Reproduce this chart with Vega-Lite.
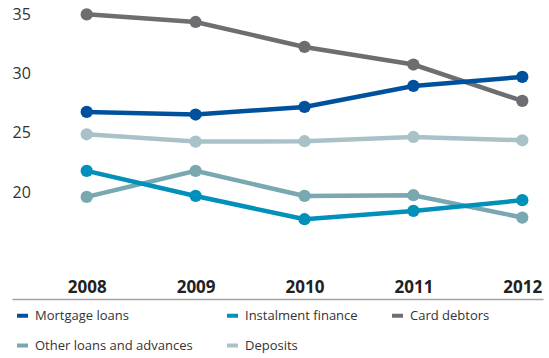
{
  "$schema": "https://vega.github.io/schema/vega-lite/v6.json",
  "width": 531,
  "height": 299,
  "autosize": "none",
  "padding": {"left": 12, "top": 0, "right": 6, "bottom": 59},
  "config": {
    "view": {"stroke": null},
    "font": "Open Sans"
  },
  "data": {
    "values": [
      {"year": 2008, "series": "Card debtors", "value": 35.04},
      {"year": 2009, "series": "Card debtors", "value": 34.39},
      {"year": 2010, "series": "Card debtors", "value": 32.28},
      {"year": 2011, "series": "Card debtors", "value": 30.79},
      {"year": 2012, "series": "Card debtors", "value": 27.71},
      {"year": 2008, "series": "Deposits", "value": 24.89},
      {"year": 2009, "series": "Deposits", "value": 24.27},
      {"year": 2010, "series": "Deposits", "value": 24.3},
      {"year": 2011, "series": "Deposits", "value": 24.66},
      {"year": 2012, "series": "Deposits", "value": 24.38},
      {"year": 2008, "series": "Other loans and advances", "value": 19.59},
      {"year": 2009, "series": "Other loans and advances", "value": 21.79},
      {"year": 2010, "series": "Other loans and advances", "value": 19.67},
      {"year": 2011, "series": "Other loans and advances", "value": 19.73},
      {"year": 2012, "series": "Other loans and advances", "value": 17.84},
      {"year": 2008, "series": "Instalment finance", "value": 21.79},
      {"year": 2009, "series": "Instalment finance", "value": 19.67},
      {"year": 2010, "series": "Instalment finance", "value": 17.7},
      {"year": 2011, "series": "Instalment finance", "value": 18.4},
      {"year": 2012, "series": "Instalment finance", "value": 19.31},
      {"year": 2008, "series": "Mortgage loans", "value": 26.78},
      {"year": 2009, "series": "Mortgage loans", "value": 26.56},
      {"year": 2010, "series": "Mortgage loans", "value": 27.2},
      {"year": 2011, "series": "Mortgage loans", "value": 28.98},
      {"year": 2012, "series": "Mortgage loans", "value": 29.74}
    ]
  },
  "encoding": {
    "x": {
      "field": "year",
      "type": "quantitative",
      "scale": {"domain": [2007.314, 2012.19], "nice": false, "zero": false},
      "axis": {
        "values": [2008, 2009, 2010, 2011, 2012],
        "format": "d",
        "title": null,
        "grid": false,
        "ticks": false,
        "domain": true,
        "domainColor": "#a3a3a3",
        "domainWidth": 1.5,
        "labelFontSize": 17,
        "labelFontWeight": "bold",
        "labelColor": "#222222",
        "labelBaseline": "alphabetic",
        "labelPadding": -7,
        "labelFlush": false
      }
    },
    "y": {
      "field": "value",
      "type": "quantitative",
      "scale": {"domain": [10.95, 36.25], "nice": false, "zero": false},
      "axis": {
        "values": [20, 25, 30, 35],
        "title": null,
        "grid": false,
        "ticks": false,
        "domain": false,
        "labelAlign": "left",
        "labelPadding": 0,
        "labelFontSize": 16,
        "labelColor": "#333333"
      }
    },
    "color": {
      "field": "series",
      "type": "nominal",
      "scale": {
        "domain": ["Mortgage loans", "Instalment finance", "Card debtors", "Other loans and advances", "Deposits"],
        "range": ["#00519d", "#0090ba", "#6d6e71", "#79a8b0", "#a8c2c8"]
      },
      "legend": {
        "title": null,
        "orient": "none",
        "legendX": 3,
        "legendY": 308,
        "direction": "horizontal",
        "columns": 3,
        "columnPadding": 26,
        "rowPadding": 13,
        "labelFontSize": 13,
        "labelColor": "#333333",
        "labelOffset": 5,
        "symbolType": "stroke",
        "symbolStrokeWidth": 4,
        "symbolSize": 121
      }
    }
  },
  "layer": [
    {"mark": {"type": "line", "strokeWidth": 4.5}},
    {"mark": {"type": "point", "filled": true, "size": 150, "opacity": 1}}
  ]
}
